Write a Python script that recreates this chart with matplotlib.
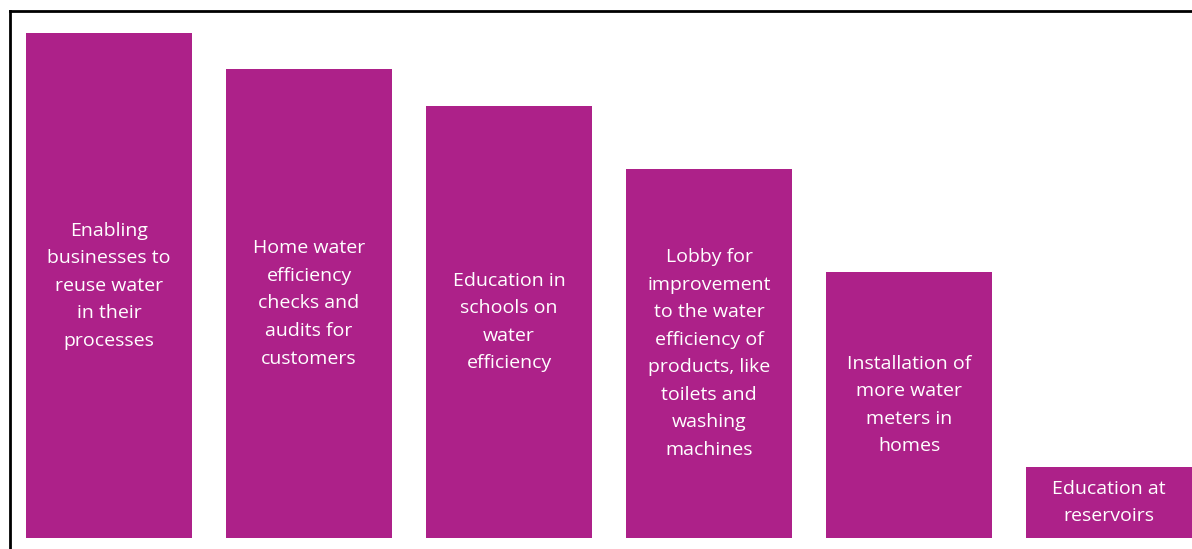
import matplotlib.pyplot as plt

labels = [
    "Enabling\nbusinesses to\nreuse water\nin their\nprocesses",
    "Home water\nefficiency\nchecks and\naudits for\ncustomers",
    "Education in\nschools on\nwater\nefficiency",
    "Lobby for\nimprovement\nto the water\nefficiency of\nproducts, like\ntoilets and\nwashing\nmachines",
    "Installation of\nmore water\nmeters in\nhomes",
    "Education at\nreservoirs",
]
values = [47.9, 44.5, 41.0, 35.0, 25.2, 6.7]

fig = plt.figure(figsize=(11.92, 5.49), dpi=100)
ax = fig.add_axes([9.5 / 1192, 11 / 549, 1182.5 / 1192, 527 / 549])

x = range(len(values))
ax.bar(x, values, width=0.83, color='#AD2189')

for i, (v, lab) in enumerate(zip(values, labels)):
    ax.text(i, v / 2, lab, ha='center', va='center', color='white',
            fontsize=14, family='Open Sans', linespacing=1.68)

ax.set_xlim(-0.4975, 5.415)
ax.set_ylim(0, 50)
ax.set_xticks([])
ax.set_yticks([])
for side in ['right', 'bottom']:
    ax.spines[side].set_visible(False)
for side in ['top', 'left']:
    ax.spines[side].set_linewidth(2)
    ax.spines[side].set_color('black')
ax.spines['left'].set_bounds(-10, 50)

fig.savefig('out.png', dpi=100)
